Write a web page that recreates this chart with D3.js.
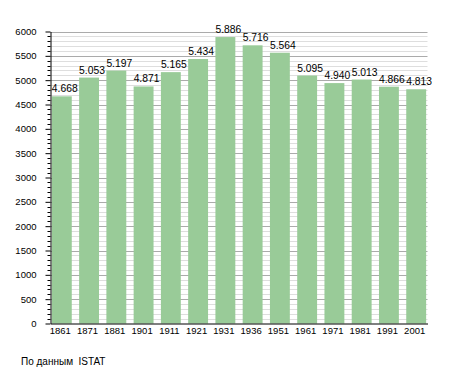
<!DOCTYPE html>
<html>
<head>
<meta charset="utf-8">
<script src="https://cdn.jsdelivr.net/npm/d3@7"></script>
<style>
  html, body { margin: 0; padding: 0; background: #fff; }
  svg { display: block; font-family: "Liberation Sans", Arial, sans-serif; }
</style>
</head>
<body>
<div id="chart"></div>
<script>
const width = 455, height = 373;

// данные переписи
const years = ["1861", "1871", "1881", "1901", "1911", "1921", "1931", "1936", "1951", "1961", "1971", "1981", "1991", "2001"];
const population = [4668, 5053, 5197, 4871, 5165, 5434, 5886, 5716, 5564, 5095, 4940, 5013, 4866, 4813];
const yTicks = [0, 500, 1000, 1500, 2000, 2500, 3000, 3500, 4000, 4500, 5000, 5500, 6000];
const source = "По данным  ISTAT";

const mLeft = 50.5, mRight = 427.5, mTop = 31.5, mBottom = 323.5;
const axisFont = 9.5;

const svg = d3.select("#chart").append("svg")
    .attr("width", width).attr("height", height);

const x = d3.scaleBand().domain(years).range([mLeft, mRight])
    .paddingInner(0.27).paddingOuter(0.05);
const y = d3.scaleLinear().domain([0, 6000]).range([mBottom, mTop]);

// сетка: мелкая каждые 100, крупная каждые 500
const minor = d3.range(0, 6001, 100).filter(v => v % 500 !== 0);
svg.append("g").selectAll("line").data(minor).join("line")
    .attr("x1", mLeft).attr("x2", mRight)
    .attr("y1", d => Math.round(y(d)) + 0.5).attr("y2", d => Math.round(y(d)) + 0.5)
    .attr("stroke", "#dedede").attr("stroke-width", 1);
svg.append("g").selectAll("line").data(yTicks.filter(v => v > 0)).join("line")
    .attr("x1", mLeft).attr("x2", mRight)
    .attr("y1", d => Math.round(y(d)) + 0.5).attr("y2", d => Math.round(y(d)) + 0.5)
    .attr("stroke", "#ababab").attr("stroke-width", 1);

// столбцы
svg.append("g").selectAll("rect").data(population).join("rect")
    .attr("x", (d, i) => x(years[i]))
    .attr("y", d => y(d))
    .attr("width", x.bandwidth())
    .attr("height", d => mBottom - y(d))
    .attr("fill", "#99cb98");

// подписи значений (выровнены по левому краю столбца)
const fmt = d3.formatLocale({ decimal: ",", thousands: ".", grouping: [3], currency: ["", ""] }).format(",");
svg.append("g").selectAll("text").data(population).join("text")
    .attr("x", (d, i) => x(years[i]))
    .attr("y", d => y(d) - 4)
    .attr("text-anchor", "start")
    .attr("font-size", 10.3)
    .attr("fill", "#000")
    .text(d => fmt(d));

// ось Y
const yAxis = svg.append("g").attr("transform", `translate(${mLeft},0)`);
yAxis.append("g").selectAll("line").data(minor).join("line")
    .attr("x1", -3).attr("x2", 0)
    .attr("y1", d => Math.round(y(d)) + 0.5).attr("y2", d => Math.round(y(d)) + 0.5)
    .attr("stroke", "#000");
yAxis.call(d3.axisLeft(y).tickValues(yTicks).tickFormat(d3.format("d")).tickSize(5).tickPadding(9).tickSizeOuter(0))
    .call(g => g.select(".domain").attr("stroke", "#000"))
    .call(g => g.selectAll("text").attr("font-size", axisFont).attr("font-family", "Liberation Sans, Arial, sans-serif").attr("fill", "#000"));

// ось X
svg.append("g").attr("transform", `translate(0,${mBottom})`)
    .call(d3.axisBottom(x).tickSize(0).tickPadding(3.5).tickSizeOuter(0))
    .call(g => g.select(".domain").attr("stroke", "#000"))
    .call(g => g.selectAll("text").attr("dx", -1.5).attr("font-size", axisFont).attr("font-family", "Liberation Sans, Arial, sans-serif").attr("fill", "#000"));

// источник
svg.append("text")
    .attr("x", 21).attr("y", 365)
    .attr("font-size", 10)
    .attr("fill", "#000")
    .attr("xml:space", "preserve")
    .style("white-space", "pre")
    .text(source);
</script>
</body>
</html>
